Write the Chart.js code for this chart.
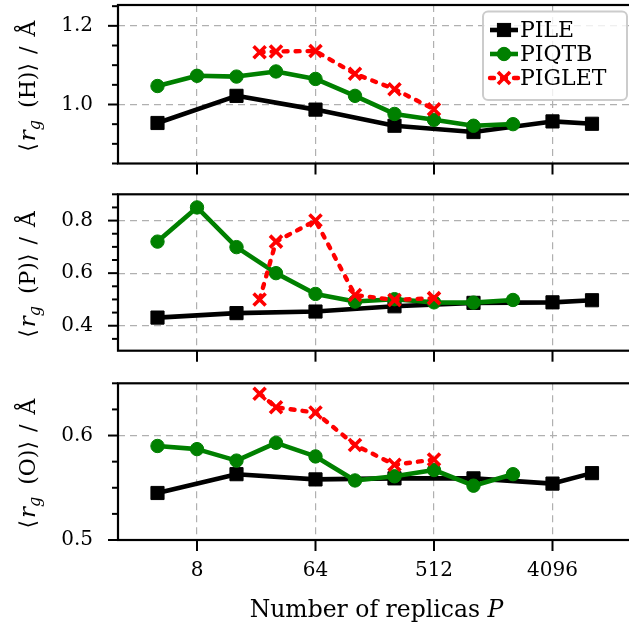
<!DOCTYPE html>
<html>
<head>
<meta charset="utf-8">
<script src="https://cdn.jsdelivr.net/npm/chart.js@4.4.0/dist/chart.umd.min.js"></script>
<style>
html, body { margin: 0; padding: 0; background: #fff; overflow: hidden; }
#wrap { position: relative; width: 629px; height: 622px; overflow: hidden; }
canvas { position: absolute; left: 0; }
</style>
</head>
<body>
<div id="wrap">
  <canvas id="cH" width="636" height="180" style="top:0px"></canvas>
  <canvas id="cP" width="636" height="188" style="top:180px"></canvas>
  <canvas id="cO" width="636" height="254" style="top:368px"></canvas>
</div>
<script>
// number of replicas for each thermostat
var pileReplicas = [4, 16, 64, 256, 1024, 4096, 8192];
var piqtbReplicas = [4, 8, 16, 32, 64, 128, 256, 512, 1024, 2048];
var pigletReplicas = [24, 32, 64, 128, 256, 512];

// <r_g> (H)
var pileH = [0.953, 1.022, 0.987, 0.946, 0.930, 0.957, 0.951];
var piqtbH = [1.047, 1.073, 1.071, 1.084, 1.065, 1.022, 0.976, 0.961, 0.946, 0.950];
var pigletH = [1.133, 1.135, 1.136, 1.078, 1.039, 0.988];

// <r_g> (P)
var pileRP = [0.431, 0.448, 0.454, 0.474, 0.487, 0.489, 0.497];
var piqtbRP = [0.720, 0.850, 0.699, 0.600, 0.521, 0.492, 0.501, 0.489, 0.488, 0.498];
var pigletRP = [0.500, 0.720, 0.800, 0.517, 0.498, 0.505];

// <r_g> (O)
var pileO = [0.545, 0.563, 0.558, 0.559, 0.559, 0.554, 0.564];
var piqtbO = [0.590, 0.587, 0.576, 0.593, 0.580, 0.557, 0.561, 0.567, 0.552, 0.563];
var pigletO = [0.640, 0.627, 0.622, 0.591, 0.572, 0.577];

// ticks
var xTicks = [8, 64, 512, 4096];
var hMajor = [1.0, 1.2];
var hMinor = [0.85, 0.9, 0.95, 1.05, 1.1, 1.15, 1.25];
var pMajor = [0.4, 0.6, 0.8];
var pMinor = [0.35, 0.45, 0.5, 0.55, 0.65, 0.7, 0.75, 0.85, 0.9];
var oMajor = [0.5, 0.6];
var oMinor = [0.525, 0.55, 0.575, 0.625, 0.65];

var seriesNames = ['PILE', 'PIQTB', 'PIGLET'];

var SERIF = '"DejaVu Serif", "DejaVu Sans", serif';

function pts(xs, ys) {
    return xs.map(function (x, i) { return { x: x, y: ys[i] }; });
}

function isIn(list, v) {
    for (var i = 0; i < list.length; i++) {
        if (Math.abs(list[i] - v) < 1e-6) return true;
    }
    return false;
}

function titleParts(atom) {
    return [
        { text: '\u27E8', font: '22px ' + SERIF, gap: 2 },
        { text: 'r', font: 'italic 23px ' + SERIF },
        { text: 'g', font: 'italic 16px ' + SERIF, dy: 5, gap: 12 },
        { text: '(' + atom + ')', font: '22px ' + SERIF },
        { text: '\u27E9', font: '22px ' + SERIF, gap: 9 },
        { text: '/', font: '22px ' + SERIF, gap: 10 },
        { text: '\u00C5', font: '22px ' + SERIF }
    ];
}

function drawRich(ctx, parts, x, y) {
    var total = 0;
    parts.forEach(function (p) {
        ctx.font = p.font;
        p.w = ctx.measureText(p.text).width + (p.gap || 0);
        total += p.w;
    });
    total -= parts[parts.length - 1].gap || 0;
    var cx = x - total / 2;
    ctx.textAlign = 'left';
    ctx.textBaseline = 'alphabetic';
    parts.forEach(function (p) {
        ctx.font = p.font;
        ctx.fillText(p.text, cx, y + (p.dy || 0));
        cx += p.w;
    });
}

function drawMarker(ctx, ds, x, y) {
    ctx.save();
    ctx.fillStyle = ds.pointBackgroundColor;
    ctx.strokeStyle = ds.pointBorderColor;
    ctx.lineWidth = ds.pointBorderWidth;
    var r = ds.pointRadius;
    if (ds.pointStyle === 'rect') {
        var s = r * Math.SQRT1_2;
        ctx.fillRect(x - s, y - s, 2 * s, 2 * s);
        ctx.strokeRect(x - s, y - s, 2 * s, 2 * s);
    } else if (ds.pointStyle === 'circle') {
        ctx.beginPath();
        ctx.arc(x, y, r, 0, Math.PI * 2);
        ctx.fill();
        ctx.stroke();
    } else {
        var d = r * Math.SQRT1_2;
        ctx.beginPath();
        ctx.moveTo(x - d, y - d); ctx.lineTo(x + d, y + d);
        ctx.moveTo(x - d, y + d); ctx.lineTo(x + d, y - d);
        ctx.stroke();
    }
    ctx.restore();
}

var framePlugin = {
    id: 'frame',
    afterDraw: function (chart, args, opts) {
        var ctx = chart.ctx, a = chart.chartArea;
        var xs = chart.scales.x, ys = chart.scales.y;
        ctx.save();
        ctx.strokeStyle = '#000';
        ctx.lineWidth = 2;
        ys.ticks.forEach(function (t) {
            var y = ys.getPixelForValue(t.value);
            var len = isIn(opts.major, t.value) ? 10 : 6;
            ctx.beginPath();
            ctx.moveTo(a.left - len, y);
            ctx.lineTo(a.left, y);
            ctx.stroke();
        });
        xs.ticks.forEach(function (t) {
            var x = xs.getPixelForValue(t.value);
            ctx.beginPath();
            ctx.moveTo(x, a.bottom);
            ctx.lineTo(x, a.bottom + 11);
            ctx.stroke();
        });
        ctx.lineWidth = 2.2;
        ctx.strokeRect(a.left, a.top, a.right - a.left, a.bottom - a.top);

        // y axis title
        ctx.fillStyle = '#000';
        ctx.save();
        ctx.translate(35, (a.top + a.bottom) / 2 + 2);
        ctx.rotate(-Math.PI / 2);
        drawRich(ctx, titleParts(opts.atom), 0, 0);
        ctx.restore();

        // x axis title
        if (opts.xTitle) {
            drawRich(ctx, [
                { text: 'Number of replicas ', font: '23.5px ' + SERIF },
                { text: 'P', font: 'italic 23.5px ' + SERIF }
            ], 376.5, a.bottom + 77);
        }

        // legend
        if (opts.legend) {
            var lx = 483, ly = 11.5, lw = 144, lh = 88.5, rad = 5;
            ctx.beginPath();
            ctx.moveTo(lx + rad, ly);
            ctx.arcTo(lx + lw, ly, lx + lw, ly + lh, rad);
            ctx.arcTo(lx + lw, ly + lh, lx, ly + lh, rad);
            ctx.arcTo(lx, ly + lh, lx, ly, rad);
            ctx.arcTo(lx, ly, lx + lw, ly, rad);
            ctx.closePath();
            ctx.fillStyle = 'rgba(255,255,255,0.8)';
            ctx.fill();
            ctx.strokeStyle = '#cccccc';
            ctx.lineWidth = 2;
            ctx.stroke();
            var rows = [30, 54, 78];
            chart.data.datasets.forEach(function (ds, i) {
                var y = rows[i];
                ctx.save();
                ctx.strokeStyle = ds.borderColor;
                ctx.lineWidth = ds.borderWidth;
                ctx.lineCap = ds.borderCapStyle || 'butt';
                ctx.setLineDash(ds.borderDash || []);
                ctx.beginPath();
                ctx.moveTo(490, y);
                ctx.lineTo(518, y);
                ctx.stroke();
                ctx.restore();
                drawMarker(ctx, ds, 504, y);
                ctx.fillStyle = '#000';
                ctx.font = '22px ' + SERIF;
                ctx.textAlign = 'left';
                ctx.textBaseline = 'middle';
                ctx.fillText(ds.label, 520, y + 1);
            });
        }
        ctx.restore();
    }
};

function makePanel(id, cfg) {
    var datasets = [
        {
            label: seriesNames[0], data: pts(pileReplicas, cfg.pile),
            borderColor: '#000000', backgroundColor: '#000000', borderWidth: 4.6,
            borderJoinStyle: 'round',
            pointStyle: 'rect', pointRadius: 9.3, pointBackgroundColor: '#000000',
            pointBorderColor: '#000000', pointBorderWidth: 1, order: 2
        },
        {
            label: seriesNames[1], data: pts(piqtbReplicas, cfg.piqtb),
            borderColor: '#008000', backgroundColor: '#008000', borderWidth: 4.6,
            borderJoinStyle: 'round',
            pointStyle: 'circle', pointRadius: 6.7, pointBackgroundColor: '#008000',
            pointBorderColor: '#008000', pointBorderWidth: 1, order: 1
        },
        {
            label: seriesNames[2], data: pts(pigletReplicas, cfg.piglet),
            borderColor: '#ff0000', backgroundColor: '#ff0000', borderWidth: 4.4,
            borderDash: [4, 8], borderCapStyle: 'round', borderJoinStyle: 'round',
            pointStyle: 'crossRot', pointRadius: 8.5, pointBackgroundColor: '#ff0000',
            pointBorderColor: '#ff0000', pointBorderWidth: 3.6, order: 0
        }
    ];
    var allY = cfg.major.concat(cfg.minor).sort(function (a, b) { return a - b; });
    return new Chart(document.getElementById(id), {
        type: 'line',
        data: { datasets: datasets },
        plugins: [framePlugin],
        options: {
            responsive: false,
            animation: false,
            events: [],
            layout: { autoPadding: false, padding: { left: 0, right: 4.5, top: cfg.top, bottom: 0 } },
            plugins: {
                legend: { display: false },
                tooltip: { enabled: false },
                frame: { major: cfg.major, atom: cfg.atom, legend: cfg.legend, xTitle: cfg.xTitle }
            },
            scales: {
                x: {
                    type: 'logarithmic', min: 2, max: 16384, bounds: 'data',
                    afterBuildTicks: function (s) {
                        s.ticks = xTicks.map(function (v) { return { value: v }; });
                    },
                    afterFit: function (s) {
                        s.height = cfg.xHeight;
                        s.paddingLeft = 0; s.paddingRight = 0;
                    },
                    ticks: {
                        display: cfg.xTitle, padding: 19, color: '#000',
                        font: { family: SERIF, size: 20 },
                        autoSkip: false, maxRotation: 0,
                        callback: function (v) { return String(v); }
                    },
                    grid: { drawTicks: false, color: '#b0b0b0', lineWidth: 1.2, borderDash: [7, 5] },
                    border: { display: false, dash: [7, 5] }
                },
                y: {
                    type: 'linear', min: cfg.yMin, max: cfg.yMax, bounds: 'data',
                    afterBuildTicks: function (s) {
                        s.ticks = allY.map(function (v) { return { value: v }; });
                    },
                    afterFit: function (s) {
                        s.width = 118;
                        s.paddingTop = 0; s.paddingBottom = 0;
                    },
                    ticks: {
                        padding: 25, color: '#000',
                        font: { family: SERIF, size: 20 },
                        autoSkip: false,
                        callback: function (v) { return isIn(cfg.major, v) ? v.toFixed(1) : ''; }
                    },
                    grid: {
                        drawTicks: false, lineWidth: 1.2, borderDash: [7, 5],
                        color: function (c) {
                            return (c.tick && isIn(cfg.major, c.tick.value)) ? '#b0b0b0' : 'rgba(0,0,0,0)';
                        }
                    },
                    border: { display: false, dash: [7, 5] }
                }
            }
        }
    });
}

makePanel('cH', {
    pile: pileH, piqtb: piqtbH, piglet: pigletH,
    yMin: 0.85, yMax: 1.253, major: hMajor, minor: hMinor,
    top: 5, xHeight: 16.5, atom: 'H', legend: true, xTitle: false
});
makePanel('cP', {
    pile: pileRP, piqtb: piqtbRP, piglet: pigletRP,
    yMin: 0.305, yMax: 0.9, major: pMajor, minor: pMinor,
    top: 14.3, xHeight: 17.3, atom: 'P', legend: false, xTitle: false
});
makePanel('cO', {
    pile: pileO, piqtb: piqtbO, piglet: pigletO,
    yMin: 0.5, yMax: 0.65, major: oMajor, minor: oMinor,
    top: 15.3, xHeight: 82, atom: 'O', legend: false, xTitle: true
});
</script>
</body>
</html>
